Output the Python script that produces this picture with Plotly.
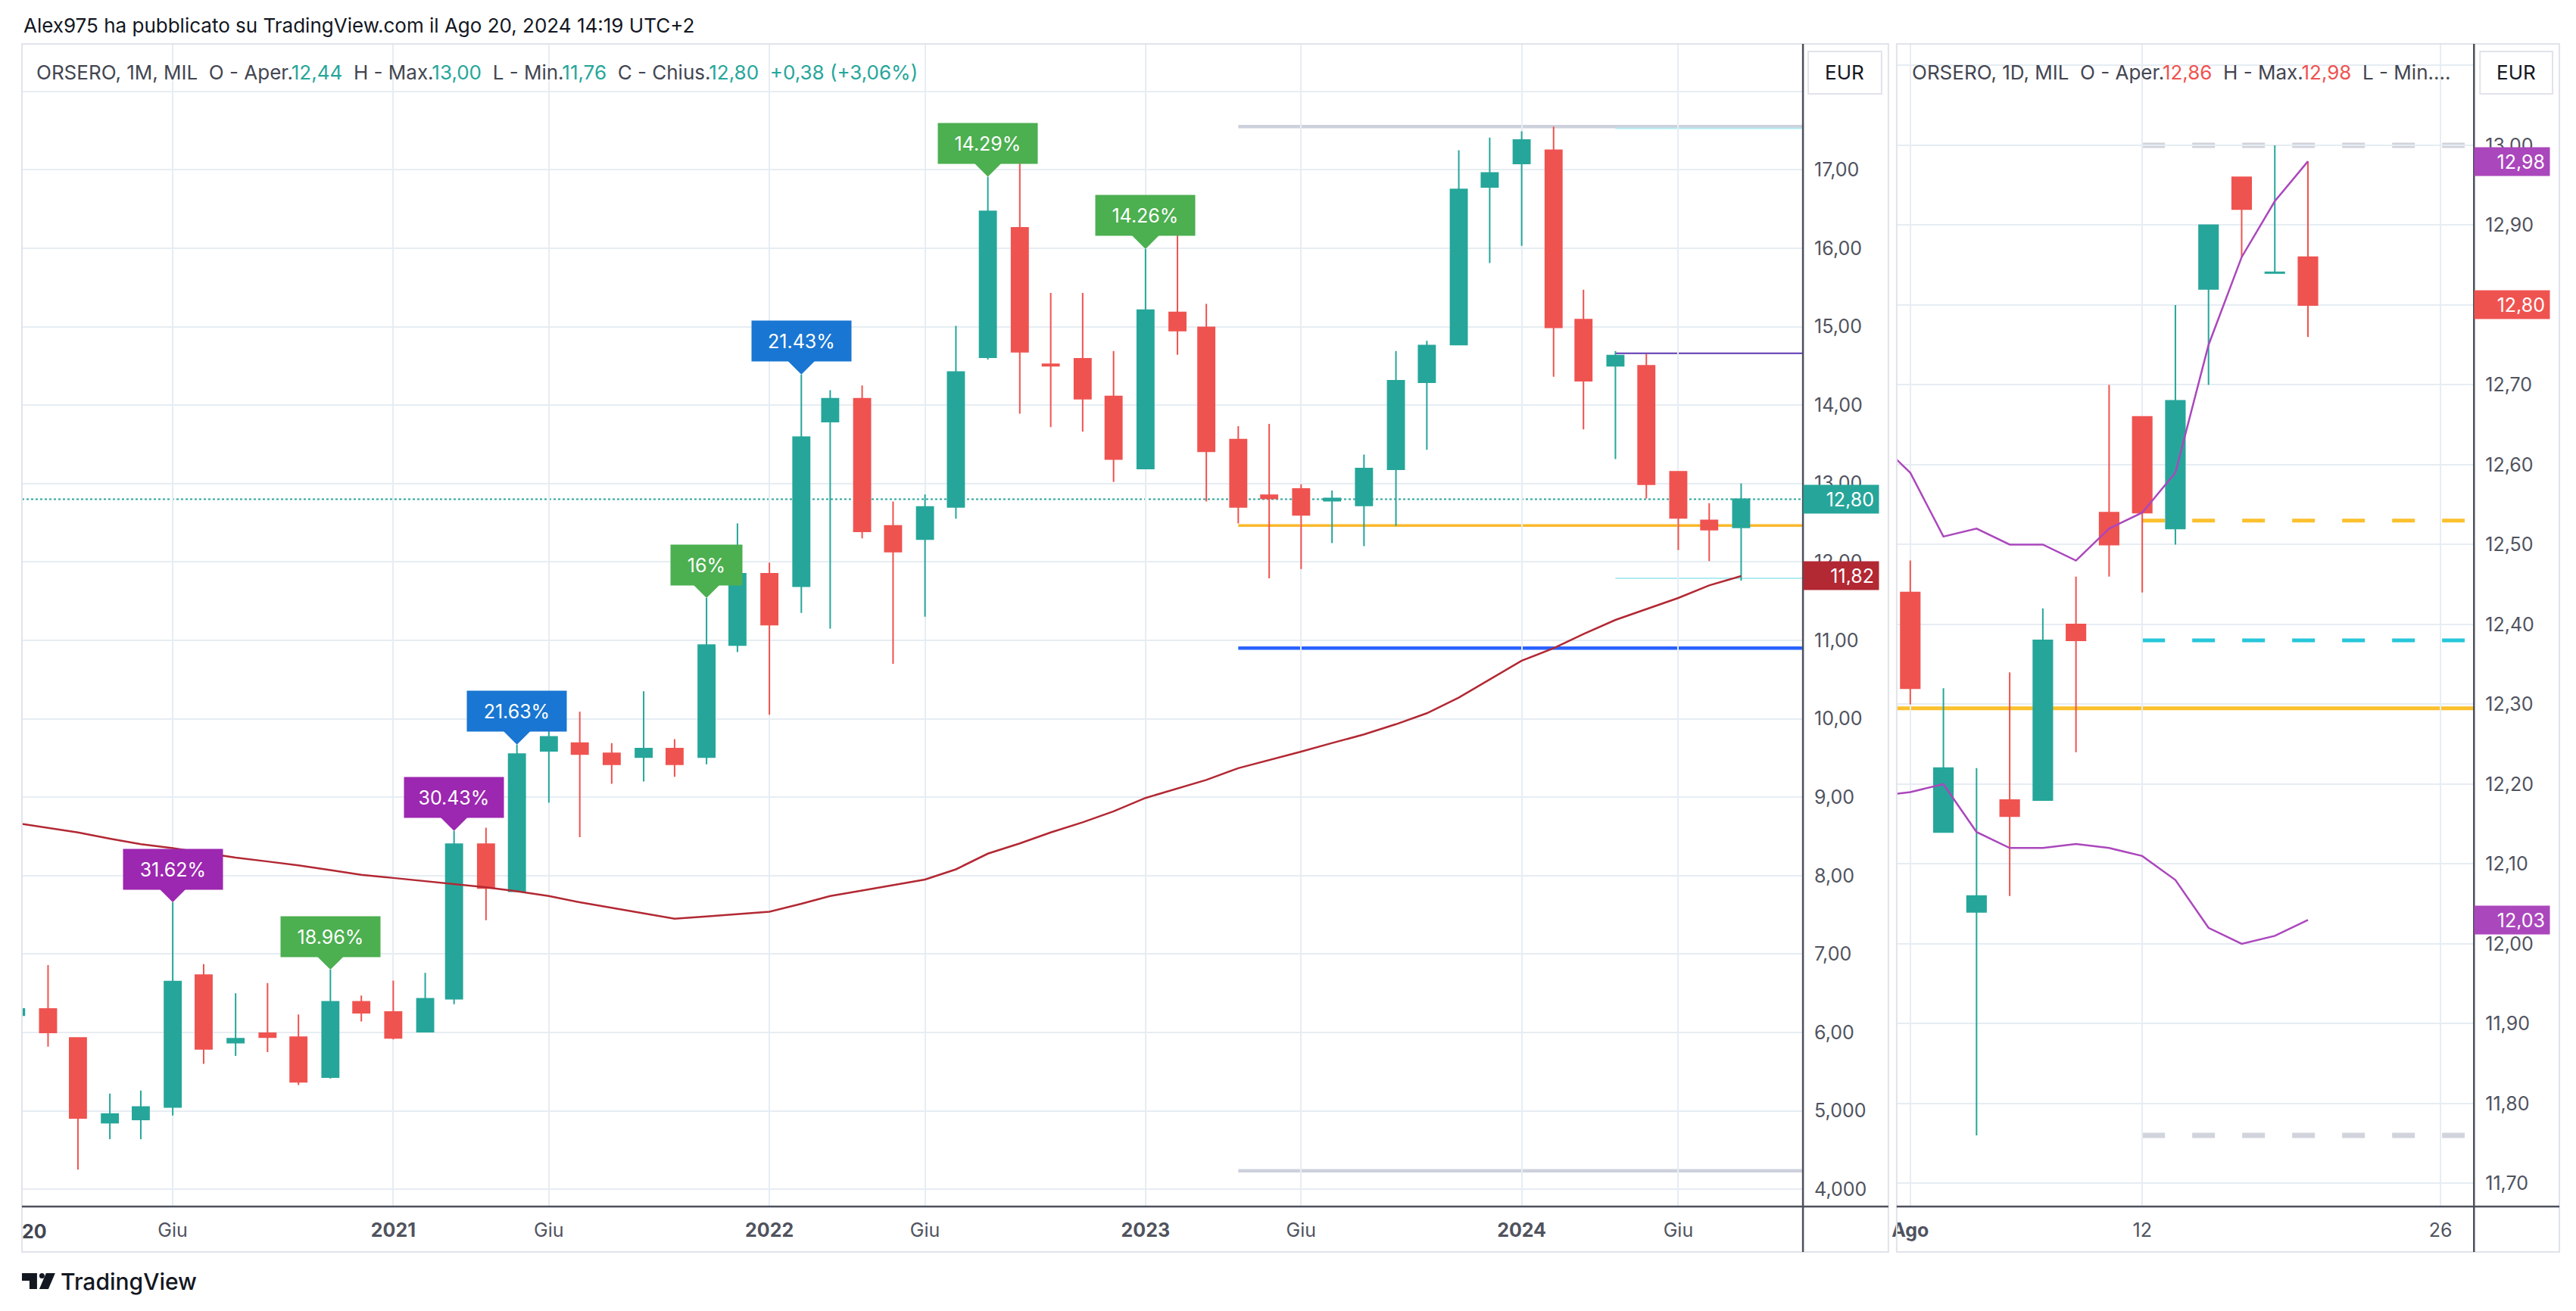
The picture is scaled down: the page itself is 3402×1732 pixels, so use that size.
import plotly.graph_objects as go
import pandas as pd

W, H = 3402, 1732
UP, DOWN = "#26a69a", "#ef5350"
GRID = "#e6edf3"
AXIS = "#4c505b"
TXT = "#50535e"

# ---- monthly chart (ORSERO 1M) ----
months = pd.date_range("2020-01-01", "2024-08-01", freq="MS")
m_open = [6.22, 6.30, 5.93, 4.85, 4.89, 5.05, 6.73, 5.87, 5.99, 5.94, 5.43, 6.39,
          6.26, 6.01, 6.43, 8.40, 7.80, 9.59, 9.69, 9.56, 9.51, 9.62, 9.51, 10.94,
          11.85, 11.69, 13.79, 14.08, 12.46, 12.29, 12.70, 14.61, 16.26, 14.52, 14.59, 14.11,
          13.19, 15.18, 14.99, 13.56, 12.85, 12.93, 12.78, 12.72, 13.18, 14.29, 14.77, 16.78,
          17.08, 17.25, 15.09, 14.50, 14.50, 13.15, 12.53, 12.44]
m_high = [6.32, 6.86, 5.93, 5.22, 5.26, 7.66, 6.87, 6.50, 6.63, 6.23, 6.80, 6.47,
          6.66, 6.76, 8.57, 8.61, 9.67, 10.07, 10.09, 9.69, 10.35, 9.74, 11.54, 12.49,
          11.99, 14.39, 14.19, 14.25, 12.77, 12.86, 15.01, 16.91, 17.31, 15.43, 15.43, 14.69,
          15.99, 16.21, 15.29, 13.73, 13.76, 12.99, 12.91, 13.37, 14.69, 14.82, 17.25, 17.41,
          17.49, 17.55, 15.47, 14.69, 14.65, 13.15, 12.75, 13.00]
m_low = [6.20, 5.82, 4.25, 4.64, 4.64, 4.94, 5.60, 5.70, 5.75, 5.33, 5.41, 6.14,
         5.91, 6.01, 6.36, 7.43, 7.80, 8.93, 8.49, 9.17, 9.20, 9.26, 9.42, 10.85,
         10.05, 11.35, 11.15, 12.30, 10.70, 11.30, 12.55, 14.58, 13.89, 13.72, 13.66, 13.02,
         13.19, 14.64, 12.77, 12.49, 11.79, 11.91, 12.24, 12.20, 12.46, 13.43, 14.77, 15.81,
         16.03, 14.36, 13.69, 13.31, 12.81, 12.15, 12.01, 11.76]
m_close = [6.30, 6.00, 4.91, 4.96, 5.05, 6.65, 5.79, 5.92, 5.94, 5.37, 6.39, 6.25,
           5.93, 6.43, 8.40, 7.84, 9.55, 9.77, 9.55, 9.42, 9.62, 9.42, 10.94, 11.85,
           11.20, 13.59, 14.08, 12.39, 12.13, 12.70, 14.42, 16.47, 14.68, 14.50, 14.08, 13.31,
           15.21, 14.95, 13.41, 12.70, 12.81, 12.60, 12.81, 13.19, 14.31, 14.76, 16.75, 16.96,
           17.38, 14.99, 14.31, 14.63, 12.99, 12.56, 12.41, 12.80]
m_ma = [8.67, 8.61, 8.55, 8.47, 8.40, 8.35, 8.29, 8.23, 8.18, 8.13, 8.07, 8.01,
        7.97, 7.93, 7.89, 7.85, 7.80, 7.74, 7.66, 7.59, 7.52, 7.45, 7.48, 7.51,
        7.54, 7.64, 7.74, 7.81, 7.88, 7.95, 8.08, 8.28, 8.41, 8.55, 8.68, 8.82,
        8.99, 9.11, 9.22, 9.37, 9.47, 9.58, 9.69, 9.80, 9.93, 10.07, 10.27, 10.50,
        10.74, 10.90, 11.08, 11.26, 11.40, 11.54, 11.70, 11.82]

lbl_month = ["2020-06-01", "2020-11-01", "2021-03-01", "2021-05-01",
             "2021-11-01", "2022-02-01", "2022-08-01", "2023-01-01"]
lbl_text = ["31.62%", "18.96%", "30.43%", "21.63%", "16%", "21.43%", "14.29%", "14.26%"]
lbl_color = ["#9c27b0", "#4caf50", "#9c27b0", "#1976d2",
             "#4caf50", "#1976d2", "#4caf50", "#4caf50"]

# horizontal levels drawn on the monthly chart
lvl_from_2023 = [17.55, 12.465, 10.90, 4.235]
lvl_from_2024 = [17.53, 14.66, 14.00, 11.79]

m_xtick = ["2020-06-01", "2021-01-01", "2021-06-01", "2022-01-01", "2022-06-01",
           "2023-01-01", "2023-06-01", "2024-01-01", "2024-06-01"]
m_xtext = ["Giu", "<b>2021</b>", "Giu", "<b>2022</b>", "Giu",
           "<b>2023</b>", "Giu", "<b>2024</b>", "Giu"]
m_ytick = list(range(4, 19))
m_ytext = ["4,000", "5,000", "6,00", "7,00", "8,00", "9,00", "10,00", "11,00",
           "12,00", "13,00", "14,00", "15,00", "16,00", "17,00", ""]

# ---- daily chart (ORSERO 1D) ----
days = ["2024-08-01", "2024-08-02", "2024-08-05", "2024-08-06", "2024-08-07",
        "2024-08-08", "2024-08-09", "2024-08-12", "2024-08-13", "2024-08-14",
        "2024-08-16", "2024-08-19", "2024-08-20"]
d_open = [12.44, 12.14, 12.04, 12.18, 12.18, 12.40, 12.54, 12.66, 12.52, 12.82, 12.96, 12.84, 12.86]
d_high = [12.48, 12.32, 12.22, 12.34, 12.42, 12.46, 12.70, 12.66, 12.80, 12.90, 12.96, 13.00, 12.98]
d_low = [12.30, 12.14, 11.76, 12.06, 12.18, 12.24, 12.46, 12.44, 12.50, 12.70, 12.86, 12.84, 12.76]
d_close = [12.32, 12.22, 12.06, 12.16, 12.38, 12.38, 12.50, 12.54, 12.68, 12.90, 12.92, 12.841, 12.80]

band_days = ["2024-07-31"] + days
band_up = [12.63, 12.59, 12.51, 12.52, 12.50, 12.50, 12.48, 12.52, 12.54, 12.59, 12.75, 12.86, 12.93, 12.98]
band_dn = [12.185, 12.19, 12.20, 12.14, 12.12, 12.12, 12.125, 12.12, 12.11, 12.08, 12.02, 12.00, 12.01, 12.03]

d_dashed = [13.00, 12.53, 12.38, 11.76]
d_solid = 12.295

d_xtick = ["2024-08-01", "2024-08-12", "2024-08-26"]
d_xtext = ["<b>Ago</b>", "12", "26"]
d_ytick = [11.7, 11.8, 11.9, 12.0, 12.1, 12.2, 12.3, 12.4, 12.5, 12.6, 12.7, 12.8, 12.9, 13.0, 13.1]
d_ytext = ["11,70", "11,80", "11,90", "12,00", "12,10", "12,20", "12,30", "12,40",
           "12,50", "12,60", "12,70", "12,80", "12,90", "13,00", ""]

m_range = ["2020-01-06 15:36", "2024-09-30"]
d_range = ["2024-07-31 14:09", "2024-08-27 00:15"]


def px(x):
    return x / W


def py(y):
    return 1 - y / H


fig = go.Figure()

fig.add_trace(go.Scatter(x=months, y=m_ma, mode="lines", line=dict(color="#b22833", width=2.5),
                         hoverinfo="skip", xaxis="x", yaxis="y"))
fig.add_trace(go.Candlestick(
    x=months, open=m_open, high=m_high, low=m_low, close=m_close,
    increasing=dict(line=dict(color=UP, width=2), fillcolor=UP),
    decreasing=dict(line=dict(color=DOWN, width=2), fillcolor=DOWN),
    hoverinfo="skip", xaxis="x", yaxis="y"))

fig.add_trace(go.Scatter(x=band_days, y=band_up, mode="lines", line=dict(color="#ab47bc", width=2.5),
                         hoverinfo="skip", xaxis="x2", yaxis="y2"))
fig.add_trace(go.Scatter(x=band_days, y=band_dn, mode="lines", line=dict(color="#ab47bc", width=2.5),
                         hoverinfo="skip", xaxis="x2", yaxis="y2"))
fig.add_trace(go.Candlestick(
    x=days, open=d_open, high=d_high, low=d_low, close=d_close,
    increasing=dict(line=dict(color=UP, width=2), fillcolor=UP),
    decreasing=dict(line=dict(color=DOWN, width=2), fillcolor=DOWN),
    hoverinfo="skip", xaxis="x2", yaxis="y2"))

shapes = []
for v, c, w in zip(lvl_from_2023, ["#cdd1dc", "#f9b82a", "#2962ff", "#cdd1dc"], [4.5, 3.5, 4.5, 4.5]):
    shapes.append(dict(type="line", xref="x", yref="y", x0="2023-04-01", x1=m_range[1], y0=v, y1=v,
                       line=dict(color=c, width=w), layer="below"))
for v, c in zip(lvl_from_2024, ["#b2ebf2", "#5e35b1", "#43a047", "#b2ebf2"]):
    shapes.append(dict(type="line", xref="x", yref="y", x0="2024-04-01", x1=m_range[1], y0=v, y1=v,
                       line=dict(color=c, width=2), layer="below"))
shapes.append(dict(type="line", xref="x", yref="y", x0=m_range[0], x1=m_range[1],
                   y0=m_close[-1], y1=m_close[-1], line=dict(color=UP, width=2, dash="dot"), layer="below"))

d_end = "2024-08-26 17:30"
for v, c, w in zip(d_dashed, ["#d1d4dc", "#fbc02d", "#26c6da", "#d1d4dc"], [7, 5, 5, 7]):
    shapes.append(dict(type="line", xref="x2", yref="y2", x0="2024-08-12", x1=d_end, y0=v, y1=v,
                       line=dict(color=c, width=w, dash="30px,36px"), layer="below"))
shapes.append(dict(type="line", xref="x2", yref="y2", x0=d_range[0], x1=d_range[1], y0=d_solid, y1=d_solid,
                   line=dict(color="#fbc02d", width=5), layer="below"))
shapes.append(dict(type="line", xref="x2", yref="y2", x0=d_range[0], x1=d_range[1],
                   y0=d_close[-1], y1=d_close[-1], line=dict(color=DOWN, width=1.5, dash="dot"), layer="below"))

# frames and axis lines
for x0, x1 in [(22, 2492), (2503, 3380)]:
    shapes.append(dict(type="rect", xref="paper", yref="paper", x0=px(x0), x1=px(x1), y0=py(1654), y1=py(58),
                       line=dict(color="#e0e3eb", width=2)))
    shapes.append(dict(type="line", xref="paper", yref="paper", x0=px(x0), x1=px(x1), y0=py(1594), y1=py(1594),
                       line=dict(color=AXIS, width=2.5)))
for xa in [2379, 3267]:
    shapes.append(dict(type="line", xref="paper", yref="paper", x0=px(xa), x1=px(xa), y0=py(1654), y1=py(58),
                       line=dict(color=AXIS, width=2.5)))
for x0, x1 in [(2386, 2483), (3275, 3371)]:
    shapes.append(dict(type="rect", xref="paper", yref="paper", x0=px(x0), x1=px(x1), y0=py(124), y1=py(68),
                       line=dict(color="#e0e3eb", width=2), fillcolor="white"))


# TradingView logo
def poly(pts):
    return "M " + " L ".join(f"{px(a)},{py(b)}" for a, b in pts) + " Z"


shapes.append(dict(type="path", xref="paper", yref="paper", fillcolor="#131722", line=dict(width=0),
                   path=poly([(22, 1682), (42, 1682), (42, 1703), (32, 1703), (32, 1692), (22, 1692)])))
shapes.append(dict(type="circle", xref="paper", yref="paper", fillcolor="#131722", line=dict(width=0),
                   x0=px(45), x1=px(52), y0=py(1689), y1=py(1682)))
shapes.append(dict(type="path", xref="paper", yref="paper", fillcolor="#131722", line=dict(width=0),
                   path=poly([(54, 1682), (66, 1682), (57, 1703), (45, 1703)])))

ann = []
ann.append(dict(text="Alex975 ha pubblicato su TradingView.com il Ago 20, 2024 14:19 UTC+2",
                x=px(22), y=py(33), xref="paper", yref="paper", xanchor="left", yanchor="middle",
                showarrow=False, font=dict(size=26, color="#131722")))


def col(t, c):
    return f"<span style='color:{c}'>{t}</span>"


sp = "\u00a0\u00a0"
hdr_m = ("ORSERO, 1M, MIL" + sp + "O - Aper." + col("12,44", UP) + sp + "H - Max." + col("13,00", UP)
         + sp + "L - Min." + col("11,76", UP) + sp + "C - Chius." + col("12,80", UP)
         + sp + col("+0,38 (+3,06%)", UP))
hdr_d = ("ORSERO, 1D, MIL" + sp + "O - Aper." + col("12,86", DOWN) + sp + "H - Max." + col("12,98", DOWN)
         + sp + "L - Min....")
for t, x in [(hdr_m, 39), (hdr_d, 2521)]:
    ann.append(dict(text=t, x=px(x), y=py(95), xref="paper", yref="paper", xanchor="left", yanchor="middle",
                    showarrow=False, font=dict(size=26, color="#434651")))
for x in [2434.5, 3323]:
    ann.append(dict(text="EUR", x=px(x), y=py(96), xref="paper", yref="paper", xanchor="center",
                    yanchor="middle", showarrow=False, font=dict(size=26, color="#131722")))
ann.append(dict(text="<b>20</b>", x=px(20), y=py(1627), xref="paper", yref="paper", xanchor="left",
                yanchor="middle", showarrow=False, font=dict(size=25, color="#434651")))
ann.append(dict(text="TradingView", x=px(71), y=py(1693), xref="paper", yref="paper", xanchor="left",
                yanchor="middle", showarrow=False, font=dict(size=30, color="#131722", weight=500)))

# percentage callouts
for d, t, c in zip(lbl_month, lbl_text, lbl_color):
    hi = m_high[months.get_loc(pd.Timestamp(d))]
    ann.append(dict(text=t, x=d, y=hi, xref="x", yref="y", showarrow=True, arrowhead=1, arrowsize=2,
                    arrowwidth=5, arrowcolor=c, ax=0, ay=-44, bgcolor=c, borderpad=11,
                    width=12.3 * len(t) + 35, height=31, font=dict(size=25, color="white")))


def tag(t, v, yref, xa, c):
    return dict(text=t, x=px(xa), y=v, xref="paper", yref=yref, xanchor="left", yanchor="middle",
                showarrow=False, bgcolor=c, borderpad=6, width=87, height=25, align="right",
                font=dict(size=25, color="white"))


ann.append(tag("12,80", m_close[-1], "y", 2379, UP))
ann.append(tag("11,82", m_ma[-1], "y", 2379, "#b22833"))
ann.append(tag("12,98", band_up[-1], "y2", 3267, "#ab47bc"))
ann.append(tag("12,80", d_close[-1], "y2", 3267, DOWN))
ann.append(tag("12,03", band_dn[-1], "y2", 3267, "#ab47bc"))

xcommon = dict(showgrid=True, gridcolor=GRID, gridwidth=2, zeroline=False, showline=False, ticks="",
               tickfont=dict(size=25, color=TXT), ticklabelstandoff=14, fixedrange=True,
               rangeslider=dict(visible=False), type="date")
ycommon = dict(showgrid=True, gridcolor=GRID, gridwidth=2, zeroline=False, showline=False, ticks="",
               side="right", tickfont=dict(size=25, color=TXT), ticklabelstandoff=14, fixedrange=True)

fig.update_layout(
    width=W, height=H, autosize=False,
    margin=dict(l=0, r=0, t=0, b=0),
    paper_bgcolor="white", plot_bgcolor="white",
    font=dict(family="Inter, Roboto, sans-serif"),
    showlegend=False, hovermode=False, dragmode=False,
    boxgap=0.18,
    xaxis=dict(xcommon, domain=[px(22), px(2379)], range=m_range,
               tickvals=m_xtick, ticktext=m_xtext, anchor="y"),
    yaxis=dict(ycommon, domain=[py(1594), py(58)], range=[3.78, 18.605],
               tickvals=m_ytick, ticktext=m_ytext, anchor="x"),
    xaxis2=dict(xcommon, domain=[px(2503), px(3267)], range=d_range,
                tickvals=d_xtick, ticktext=d_xtext, anchor="y2",
                rangebreaks=[dict(bounds=["sat", "mon"]), dict(values=["2024-08-15"])]),
    yaxis2=dict(ycommon, domain=[py(1594), py(58)], range=[11.671, 13.127],
                tickvals=d_ytick, ticktext=d_ytext, anchor="x2"),
    shapes=shapes,
    annotations=ann,
)

fig.write_html("out.html", config={"staticPlot": True},
               post_script="document.body.style.margin='0';document.body.style.overflow='hidden';")
